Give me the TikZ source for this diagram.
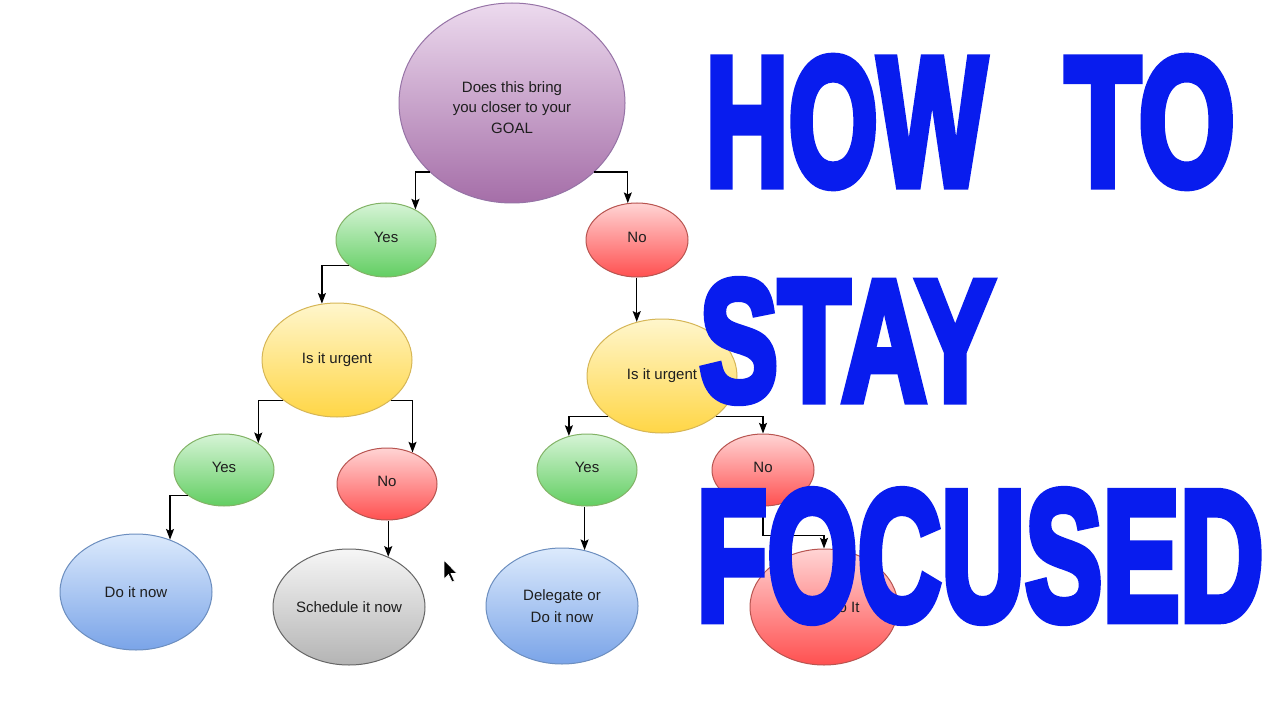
\documentclass[tikz,border=0pt]{standalone}
\usepackage{fontspec}
\usepackage{graphicx}
\setmainfont{Liberation Sans}
\newfontfamily\bigfont{Liberation Sans}[UprightFont={* Bold}, FakeBold=5]
\usetikzlibrary{shapes.geometric,arrows.meta}
\definecolor{bigblue}{RGB}{8,28,238}
\definecolor{txt}{RGB}{30,30,30}
\tikzset{
  bub/.style={ellipse, inner sep=0pt, align=center, text=txt, line width=0.75pt,
    font=\fontsize{11.25pt}{16pt}\selectfont},
  small/.style={bub, minimum width=75pt, minimum height=54pt},
  medium/.style={bub, minimum width=112.5pt, minimum height=85.5pt},
  large/.style={bub, minimum width=114pt, minimum height=87pt},
  purplefill/.style={draw={rgb,255:red,150;green,115;blue,166}, top color={rgb,255:red,236;green,218;blue,238}, bottom color={rgb,255:red,165;green,110;blue,168}},
  greenfill/.style={draw={rgb,255:red,130;green,179;blue,102}, top color={rgb,255:red,214;green,244;blue,214}, bottom color={rgb,255:red,98;green,206;blue,98}},
  redfill/.style={draw={rgb,255:red,184;green,84;blue,80}, top color={rgb,255:red,255;green,212;blue,212}, bottom color={rgb,255:red,255;green,80;blue,80}},
  yellowfill/.style={draw={rgb,255:red,214;green,182;blue,86}, top color={rgb,255:red,255;green,246;blue,204}, bottom color={rgb,255:red,255;green,214;blue,70}},
  bluefill/.style={draw={rgb,255:red,108;green,142;blue,191}, top color={rgb,255:red,220;green,234;blue,252}, bottom color={rgb,255:red,122;green,164;blue,232}},
  greyfill/.style={draw={rgb,255:red,102;green,102;blue,102}, top color={rgb,255:red,246;green,246;blue,246}, bottom color={rgb,255:red,180;green,180;blue,180}},
  arr/.style={draw=black, line width=1pt, -{Stealth[length=8pt,width=6pt,inset=1.5pt]}},
  bigword/.style={inner sep=0pt, text=bigblue, font=\bigfont\fontsize{75pt}{75pt}\selectfont}
}
\begin{document}
\begin{tikzpicture}[x=0.75pt,y=-0.75pt]
\useasboundingbox[fill=white] (0,0) rectangle (1280,720);

% nodes
\node[bub, purplefill, minimum width=169.5pt, minimum height=150pt] (goal) at (512,103)
  {\raisebox{-4pt}[\height][\depth]{\begin{tabular}{@{}c@{}}Does this bring\\[-0.6pt]you closer to your\\[-0.6pt]GOAL\end{tabular}}};
\node[small, greenfill, minimum height=55.5pt] (yes1) at (386,240) {\raisebox{2pt}[\height][\depth]{Yes}};
\node[small, redfill, minimum width=76.5pt, minimum height=55.5pt] (no1) at (637,240) {\raisebox{2pt}[\height][\depth]{No}};
\node[medium, yellowfill] (urg1) at (337,360) {Is it urgent};
\node[medium, yellowfill] (urg2) at (662,376) {Is it urgent};
\node[small, greenfill] (yes2) at (224,470) {\raisebox{2pt}[\height][\depth]{Yes}};
\node[small, redfill] (no2) at (387,484) {\raisebox{2pt}[\height][\depth]{No}};
\node[small, greenfill] (yes3) at (587,470) {\raisebox{2pt}[\height][\depth]{Yes}};
\node[small, redfill, minimum width=76.5pt] (no3) at (763,470) {\raisebox{2pt}[\height][\depth]{No}};
\node[large, bluefill] (donow) at (136,592) {Do it now};
\node[large, greyfill] (sched) at (349,607) {Schedule it now};
\node[large, bluefill] (deleg) at (562,606) {Delegate or\\Do it now};
\node[large, redfill, minimum width=111pt] (doit) at (824,607) {Don't Do It};

% connectors
\draw[arr] (goal.220) -| (yes1.46);
\draw[arr] (goal.320) -| (no1.104);
\draw[arr] (yes1.215) -| (urg1.105);
\draw[arr] (urg2.115 |- no1.south) -- (urg2.115);
\draw[arr] (urg1.217) -| (yes2.38);
\draw[arr] (urg1.323) -| (no2.51);
\draw[arr] (yes2.215) -| (donow.57);
\draw[arr] (sched.52 |- no2.south) -- (sched.52);
\draw[arr] (urg2.217) -| (yes3.118);
\draw[arr] (urg2.323) -| (no3.north);
\draw[arr] (deleg.68 |- yes3.south) -- (deleg.68);
\draw[arr] (no3.south) -- ++(0,29) -| (doit.north);

% mouse pointer
\fill[black, draw=white, line width=0.5pt] (444,560) -- (444,579) -- (448.5,574.5) -- (452,582) -- (454.5,581) -- (451,573.5) -- (457,573.5) -- cycle;

% title
\node[bigword] (how) at (846,122) {\scalebox{1.15}[1.83]{HOW}};
\node[bigword] (to) at (1150,122) {\scalebox{1.24}[1.83]{TO}};
\node[bigword] (stay) at (847,341) {\scalebox{1.18}[1.72]{STAY}};
\node[bigword] (focused) at (980,556) {\scalebox{1.16}[1.85]{FOCUSED}};
\end{tikzpicture}
\end{document}
